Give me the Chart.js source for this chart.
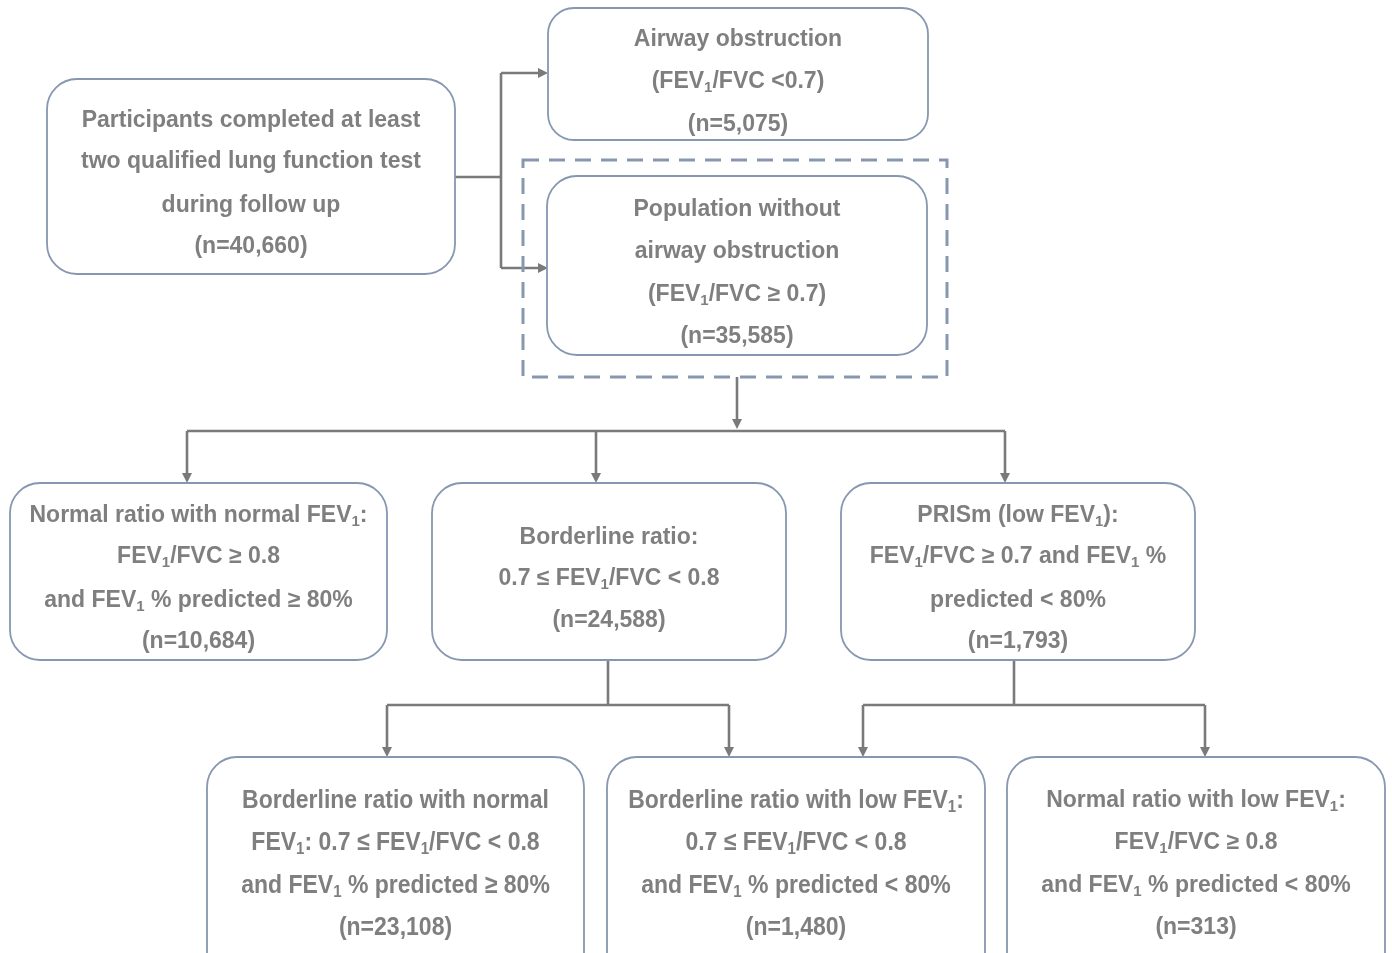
<!DOCTYPE html>
<html>
<head>
<meta charset="utf-8">
<script src="https://cdn.jsdelivr.net/npm/chart.js@4"></script>
<style>
html,body{margin:0;padding:0;background:#fff;overflow:hidden;}
#wrap{width:1392px;height:953px;}
</style>
</head>
<body>
<div id="wrap"><canvas id="c" width="1392" height="953"></canvas></div>
<script>
// ---- data: node texts ----
const nodeTitles = [
  ["Participants completed at least", "two qualified lung function test", "during follow up"],
  ["Airway obstruction", "(FEV₁/FVC <0.7)"],
  ["Population without", "airway obstruction", "(FEV₁/FVC ≥ 0.7)"],
  ["Normal ratio with normal FEV₁:", "FEV₁/FVC ≥ 0.8", "and FEV₁ % predicted ≥ 80%"],
  ["Borderline ratio:", "0.7 ≤ FEV₁/FVC < 0.8"],
  ["PRISm (low FEV₁):", "FEV₁/FVC ≥ 0.7 and FEV₁ %", "predicted < 80%"],
  ["Borderline ratio with normal", "FEV₁: 0.7 ≤ FEV₁/FVC < 0.8", "and FEV₁ % predicted ≥ 80%"],
  ["Borderline ratio with low FEV₁:", "0.7 ≤ FEV₁/FVC < 0.8", "and FEV₁ % predicted < 80%"],
  ["Normal ratio with low FEV₁:", "FEV₁/FVC ≥ 0.8", "and FEV₁ % predicted < 80%"]
];
const nodeCounts = ["40,660", "5,075", "35,585", "10,684", "24,588", "1,793", "23,108", "1,480", "313"];

// ---- layout (positions/sizes, in chart units) ----
const boxLayout = [
  {x0:47,  x1:455,  y0:79,  y1:274, r:30, lines:[119,160,204,245]},
  {x0:548, x1:928,  y0:8,   y1:140, r:26, lines:[38,80,123]},
  {x0:547, x1:927,  y0:176, y1:355, r:30, lines:[208,250,293,335]},
  {x0:10,  x1:387,  y0:483, y1:660, r:30, lines:[514,555,599,640]},
  {x0:432, x1:786,  y0:483, y1:660, r:30, lines:[536,577,619]},
  {x0:841, x1:1195, y0:483, y1:660, r:30, lines:[514,555,599,640]},
  {x0:207, x1:584,  y0:757, y1:990, r:30, lines:[799,841,884,926], narrow:true},
  {x0:607, x1:985,  y0:757, y1:990, r:30, lines:[799,841,884,926], narrow:true},
  {x0:1007,x1:1385, y0:757, y1:990, r:30, lines:[799,841,884,926]}
];
const dashedFrame = {x0:523, x1:947, y0:160, y1:377};
const connectors = [
  {pts:[[455,177],[501,177]], arrow:false},
  {pts:[[501,73],[501,268]], arrow:false},
  {pts:[[501,73],[548,73]], arrow:true},
  {pts:[[501,268],[548,268]], arrow:true},
  {pts:[[737,377],[737,429]], arrow:true},
  {pts:[[187,431],[1005,431]], arrow:false},
  {pts:[[187,431],[187,483]], arrow:true},
  {pts:[[596,431],[596,483]], arrow:true},
  {pts:[[1005,431],[1005,483]], arrow:true},
  {pts:[[608,660],[608,705]], arrow:false},
  {pts:[[387,705],[729,705]], arrow:false},
  {pts:[[387,705],[387,757]], arrow:true},
  {pts:[[729,705],[729,757]], arrow:true},
  {pts:[[1014,660],[1014,705]], arrow:false},
  {pts:[[863,705],[1205,705]], arrow:false},
  {pts:[[863,705],[863,757]], arrow:true},
  {pts:[[1205,705],[1205,757]], arrow:true}
];

const TEXT_COLOR = '#7f7f7f';
const BOX_COLOR = '#8797b0';
const LINE_COLOR = '#7a7a7a';
const FONT = '"Liberation Sans", Arial, Helvetica, sans-serif';
const FS = 23;

function drawRich(ctx, str, cx, cy, narrow) {
  const segs = [];
  let buf = '';
  for (const ch of str) {
    if (ch === '₁') { if (buf) segs.push({t:buf, sub:false}); buf=''; segs.push({t:'1', sub:true}); }
    else buf += ch;
  }
  if (buf) segs.push({t:buf, sub:false});
  const fs = narrow ? 26 : FS;
  const fN = 'bold ' + fs + 'px ' + FONT;
  const fS = 'bold ' + Math.round(fs*0.64) + 'px ' + FONT;
  let w = 0;
  for (const s of segs) { ctx.font = s.sub ? fS : fN; s.w = ctx.measureText(s.t).width; w += s.w; }
  ctx.save();
  const sx = narrow ? 0.885 : 1;
  ctx.translate(cx, cy + 1.5);
  ctx.scale(sx, 1);
  let x = -w/2;
  ctx.fillStyle = TEXT_COLOR;
  ctx.textBaseline = 'middle';
  ctx.textAlign = 'left';
  for (const s of segs) {
    ctx.font = s.sub ? fS : fN;
    ctx.fillText(s.t, x, s.sub ? fs*0.28 : 0);
    x += s.w;
  }
  ctx.restore();
}

function roundRect(ctx, x0, y0, x1, y1, r) {
  ctx.beginPath();
  ctx.moveTo(x0 + r, y0);
  ctx.lineTo(x1 - r, y0);
  ctx.arcTo(x1, y0, x1, y0 + r, r);
  ctx.lineTo(x1, y1 - r);
  ctx.arcTo(x1, y1, x1 - r, y1, r);
  ctx.lineTo(x0 + r, y1);
  ctx.arcTo(x0, y1, x0, y1 - r, r);
  ctx.lineTo(x0, y0 + r);
  ctx.arcTo(x0, y0, x0 + r, y0, r);
  ctx.closePath();
}

const flowPlugin = {
  id: 'flow',
  afterDraw(chart) {
    const ctx = chart.ctx;
    const X = v => chart.scales.x.getPixelForValue(v);
    const Y = v => chart.scales.y.getPixelForValue(v);
    ctx.save();
    ctx.strokeStyle = LINE_COLOR;
    ctx.fillStyle = LINE_COLOR;
    ctx.lineWidth = 2.6;
    ctx.lineCap = 'butt';
    for (const c of connectors) {
      const p = c.pts.map(q => [X(q[0]), Y(q[1])]);
      const n = p.length;
      const end = p[n-1];
      const prev = p[n-2];
      const dx = end[0]-prev[0], dy = end[1]-prev[1];
      const len = Math.hypot(dx, dy);
      const ux = dx/len, uy = dy/len;
      const AL = 10, AW = 5;
      ctx.beginPath();
      ctx.moveTo(p[0][0], p[0][1]);
      for (let i = 1; i < n; i++) {
        if (i === n-1 && c.arrow) ctx.lineTo(end[0]-ux*AL*0.8, end[1]-uy*AL*0.8);
        else ctx.lineTo(p[i][0], p[i][1]);
      }
      ctx.stroke();
      if (c.arrow) {
        ctx.beginPath();
        ctx.moveTo(end[0], end[1]);
        ctx.lineTo(end[0]-ux*AL - uy*AW, end[1]-uy*AL + ux*AW);
        ctx.lineTo(end[0]-ux*AL + uy*AW, end[1]-uy*AL - ux*AW);
        ctx.closePath();
        ctx.fill();
      }
    }
    ctx.strokeStyle = BOX_COLOR;
    ctx.lineWidth = 3;
    ctx.setLineDash([16, 10]);
    ctx.strokeRect(X(dashedFrame.x0), Y(dashedFrame.y0), X(dashedFrame.x1)-X(dashedFrame.x0), Y(dashedFrame.y1)-Y(dashedFrame.y0));
    ctx.setLineDash([]);
    ctx.lineWidth = 1.8;
    boxLayout.forEach((b, i) => {
      roundRect(ctx, X(b.x0), Y(b.y0), X(b.x1), Y(b.y1), b.r);
      ctx.fillStyle = '#ffffff';
      ctx.fill();
      ctx.strokeStyle = BOX_COLOR;
      ctx.stroke();
      const texts = nodeTitles[i].concat(['(n=' + nodeCounts[i] + ')']);
      const cx = X((b.x0 + b.x1) / 2);
      texts.forEach((t, k) => drawRich(ctx, t, cx, Y(b.lines[k]), b.narrow));
    });
    ctx.restore();
  }
};

new Chart(document.getElementById('c'), {
  type: 'scatter',
  data: { datasets: [{ data: nodeCounts.map((v, i) => ({x: (boxLayout[i].x0 + boxLayout[i].x1) / 2, y: boxLayout[i].lines[0]})), pointRadius: 0 }] },
  options: {
    responsive: false,
    animation: false,
    devicePixelRatio: 1,
    layout: { padding: 0 },
    plugins: { legend: { display: false }, tooltip: { enabled: false } },
    scales: {
      x: { type: 'linear', min: 0, max: 1392, display: false },
      y: { type: 'linear', min: 0, max: 953, reverse: true, display: false }
    }
  },
  plugins: [flowPlugin]
});
</script>
</body>
</html>
